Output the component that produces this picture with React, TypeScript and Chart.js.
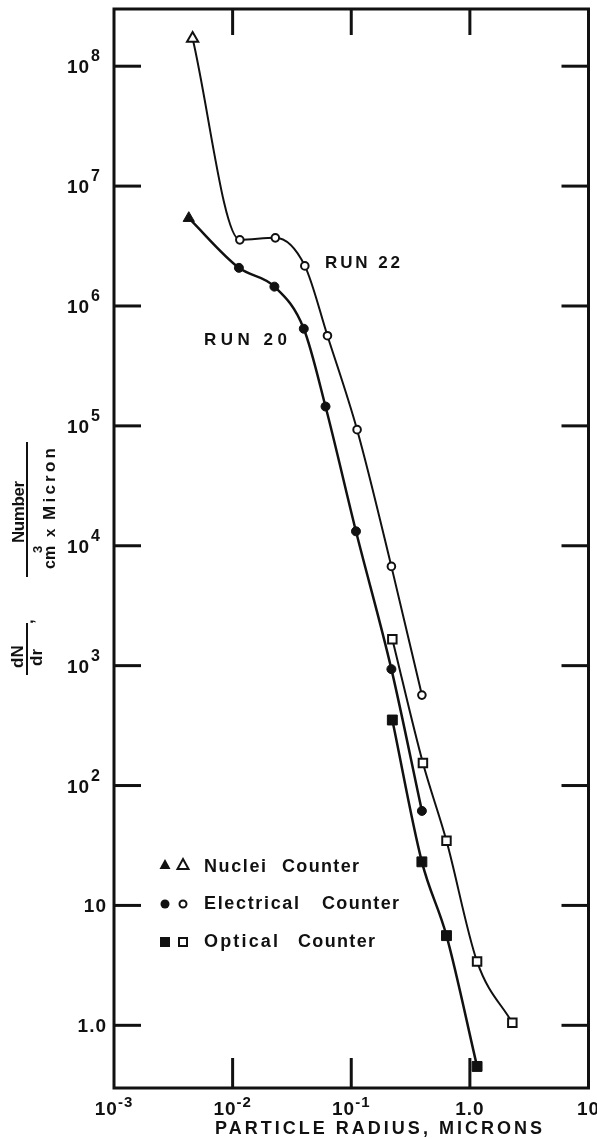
import React, { useEffect, useRef } from "react";
import { Chart, registerables } from "chart.js";

Chart.register(...registerables);

// ---- Data (particle radius in microns, dN/dr in number / cm^3 x micron) ----
const run22NucleiR = [0.0046];
const run22NucleiN = [1.7e8];
const run22ElecR = [0.0115, 0.0229, 0.0406, 0.063, 0.112, 0.218, 0.394];
const run22ElecN = [3.56e6, 3.7e6, 2.16e6, 5.65e5, 9.3e4, 6730, 568];
const run22OptR = [0.222, 0.402, 0.635, 1.15, 2.28];
const run22OptN = [1663, 154, 34.6, 3.4, 1.05];

const run20NucleiR = [0.00427];
const run20NucleiN = [5.4e6];
const run20ElecR = [0.0113, 0.0225, 0.0398, 0.0607, 0.1096, 0.218, 0.394];
const run20ElecN = [2.08e6, 1.45e6, 6.46e5, 1.45e5, 1.32e4, 935, 61.4];
const run20OptR = [0.222, 0.394, 0.635, 1.15];
const run20OptN = [352, 23.1, 5.6, 0.454];

// ---- Axes ----
const xMin = 1e-3;
const xMax = 10;
const yMin = 0.31;
const yMax = 3.0e8;
const xTickValues = [1e-3, 1e-2, 1e-1, 1, 10];
const xTickBase = ["10", "10", "10", "1.0", "10"];
const xTickExp = ["-3", "-2", "-1", "", ""];
const xInnerTicks = [1e-2, 1e-1, 1];
const yTickValues = [1, 10, 100, 1e3, 1e4, 1e5, 1e6, 1e7, 1e8];
const yTickBase = ["1.0", "10", "10", "10", "10", "10", "10", "10", "10"];
const yTickExp = ["", "", "2", "3", "4", "5", "6", "7", "8"];

const xTitle = "PARTICLE RADIUS, MICRONS";
const legendNames = ["Nuclei", "Electrical", "Optical"];
const legendWord = "Counter";
const run22Label = "RUN 22";
const run20Label = "RUN 20";

const INK = "#111";
const LBL = '"Liberation Sans", Arial, sans-serif';

function fitText(ctx: CanvasRenderingContext2D, text: string, x: number, y: number, width?: number) {
  (ctx as any).letterSpacing = "0px";
  ctx.textAlign = "left";
  if (width === undefined) {
    ctx.fillText(text, x, y);
    return;
  }
  const w0 = ctx.measureText(text).width;
  const n = text.length;
  const sp = n > 1 ? (width - w0) / (n - 1) : 0;
  (ctx as any).letterSpacing = sp + "px";
  ctx.fillText(text, x, y);
  (ctx as any).letterSpacing = "0px";
}

// rotated (bottom-to-top) text, baseline at screen x = baseX, starting at screen y = yBottom
function rotFit(ctx: CanvasRenderingContext2D, text: string, baseX: number, yBottom: number, font: string, length?: number) {
  ctx.save();
  ctx.font = font;
  ctx.translate(baseX, yBottom);
  ctx.rotate(-Math.PI / 2);
  ctx.textBaseline = "alphabetic";
  fitText(ctx, text, 0, 0, length);
  ctx.restore();
}

function line(ctx: CanvasRenderingContext2D, x1: number, y1: number, x2: number, y2: number) {
  ctx.beginPath();
  ctx.moveTo(x1, y1);
  ctx.lineTo(x2, y2);
  ctx.stroke();
}

function symbol(ctx: CanvasRenderingContext2D, kind: string, filled: boolean, cx: number, cy: number) {
  ctx.beginPath();
  if (kind === "triangle") {
    ctx.moveTo(cx, cy - 6);
    ctx.lineTo(cx + 5.5, cy + 4);
    ctx.lineTo(cx - 5.5, cy + 4);
    ctx.closePath();
  } else if (kind === "circle") {
    ctx.arc(cx, cy, filled ? 4.5 : 3.5, 0, Math.PI * 2);
  } else {
    if (filled) ctx.rect(cx - 5, cy - 5, 10, 10);
    else ctx.rect(cx - 4, cy - 4, 8, 8);
  }
  ctx.lineWidth = 2;
  if (filled) ctx.fill();
  else ctx.stroke();
}

const decor = {
  id: "decor",
  afterDatasetsDraw(chart: any) {
    const { ctx, chartArea: a, scales } = chart;
    const xs = scales.x;
    const ys = scales.y;
    ctx.save();
    ctx.strokeStyle = INK;
    ctx.fillStyle = INK;
    ctx.lineCap = "butt";

    // frame
    ctx.lineWidth = 3;
    ctx.strokeRect(a.left, a.top, a.right - a.left, a.bottom - a.top);

    // y ticks and labels
    yTickValues.forEach((v, i) => {
      const y = ys.getPixelForValue(v);
      ctx.lineWidth = 3;
      line(ctx, a.left, y, a.left + 27, y);
      line(ctx, a.right - 27, y, a.right, y);
      const right = 100;
      ctx.textBaseline = "alphabetic";
      ctx.textAlign = "right";
      let expW = 0;
      if (yTickExp[i]) {
        ctx.font = `bold 16px ${LBL}`;
        expW = ctx.measureText(yTickExp[i]).width;
        ctx.fillText(yTickExp[i], right, y - 5);
      }
      ctx.font = `bold 19px ${LBL}`;
      (ctx as any).letterSpacing = "1px";
      ctx.fillText(yTickBase[i], right - expW - (expW ? 1 : -7), y + 7);
      (ctx as any).letterSpacing = "0px";
    });

    // x ticks and labels
    ctx.lineWidth = 3;
    xInnerTicks.forEach((v) => {
      const x = xs.getPixelForValue(v);
      line(ctx, x, a.top, x, a.top + 26);
      line(ctx, x, a.bottom, x, a.bottom - 30);
    });
    xTickValues.forEach((v, i) => {
      const x = Math.min(xs.getPixelForValue(v), 589);
      (ctx as any).letterSpacing = "1px";
      ctx.font = `bold 19px ${LBL}`;
      const bw = ctx.measureText(xTickBase[i]).width;
      ctx.font = `bold 15px ${LBL}`;
      const ew = xTickExp[i] ? ctx.measureText(xTickExp[i]).width : 0;
      const start = x - (bw + ew) / 2;
      ctx.textAlign = "left";
      ctx.font = `bold 19px ${LBL}`;
      ctx.fillText(xTickBase[i], start, 1115);
      if (xTickExp[i]) {
        ctx.font = `bold 15px ${LBL}`;
        ctx.fillText(xTickExp[i], start + bw, 1107);
      }
      (ctx as any).letterSpacing = "0px";
    });

    // x title
    ctx.font = `bold 18px ${LBL}`;
    fitText(ctx, xTitle, 215, 1134, 327);

    // y title (rotated fractions)
    const tf = `bold 17px ${LBL}`;
    rotFit(ctx, "dN", 23, 668, tf);
    rotFit(ctx, "dr", 42, 666, tf);
    ctx.lineWidth = 2;
    line(ctx, 27, 623, 27, 675);
    rotFit(ctx, ",", 33, 624, tf);
    rotFit(ctx, "Number", 24, 543, tf, 62);
    line(ctx, 27, 442, 27, 577);
    rotFit(ctx, "cm", 55, 569, `bold 16px ${LBL}`);
    rotFit(ctx, "3", 42, 553, `bold 13px ${LBL}`);
    rotFit(ctx, "x", 55, 537, `bold 15px ${LBL}`);
    rotFit(ctx, "Micron", 55, 520, `bold 17px ${LBL}`, 72);

    // run labels
    ctx.font = `bold 17px ${LBL}`;
    fitText(ctx, run22Label, 325, 268, 75);
    fitText(ctx, run20Label, 204, 345, 83);

    // legend
    const kinds = ["triangle", "circle", "square"];
    const rows = [865, 904, 942];
    const baselines = [872, 909, 947];
    const nameW = [62, 95, 74];
    const wordX = [282, 322, 298];
    ctx.strokeStyle = INK;
    rows.forEach((cy, i) => {
      symbol(ctx, kinds[i], true, 165, cy);
      symbol(ctx, kinds[i], false, 183, cy);
      ctx.font = `bold 18px ${LBL}`;
      fitText(ctx, legendNames[i], 204, baselines[i], nameW[i]);
      fitText(ctx, legendWord, wordX[i], baselines[i], 77);
    });

    ctx.restore();
  },
};

function pts(rs: number[], ns: number[]) {
  return rs.map((r, i) => ({ x: r, y: ns[i] }));
}

export default function App() {
  const ref = useRef<HTMLCanvasElement>(null);
  useEffect(() => {
    const canvas = ref.current!;
    const chart = new Chart(canvas, {
      type: "line",
      data: {
        datasets: [
          {
            label: "Run 22 nuclei + electrical",
            data: [...pts(run22NucleiR, run22NucleiN), ...pts(run22ElecR, run22ElecN)],
            borderColor: INK,
            borderWidth: 2,
            pointStyle: [...run22NucleiR.map(() => "triangle"), ...run22ElecR.map(() => "circle")] as any,
            pointRadius: [...run22NucleiR.map(() => 6.5), ...run22ElecR.map(() => 3.8)],
            pointBackgroundColor: "#fff",
            pointBorderColor: INK,
            pointBorderWidth: 2,
            cubicInterpolationMode: "monotone",
            fill: false,
          },
          {
            label: "Run 20 nuclei + electrical",
            data: [...pts(run20NucleiR, run20NucleiN), ...pts(run20ElecR, run20ElecN)],
            borderColor: INK,
            borderWidth: 2.5,
            pointStyle: [...run20NucleiR.map(() => "triangle"), ...run20ElecR.map(() => "circle")] as any,
            pointRadius: [...run20NucleiR.map(() => 6.5), ...run20ElecR.map(() => 4.5)],
            pointBackgroundColor: INK,
            pointBorderColor: INK,
            pointBorderWidth: 1,
            cubicInterpolationMode: "monotone",
            fill: false,
          },
          {
            label: "Run 22 optical",
            data: pts(run22OptR, run22OptN),
            borderColor: INK,
            borderWidth: 2,
            pointStyle: "rect",
            pointRadius: 6,
            pointBackgroundColor: "#fff",
            pointBorderColor: INK,
            pointBorderWidth: 2,
            cubicInterpolationMode: "monotone",
            fill: false,
          },
          {
            label: "Run 20 optical",
            data: pts(run20OptR, run20OptN),
            borderColor: INK,
            borderWidth: 2.5,
            pointStyle: "rect",
            pointRadius: 7,
            pointBackgroundColor: INK,
            pointBorderColor: INK,
            pointBorderWidth: 1,
            cubicInterpolationMode: "monotone",
            fill: false,
          },
        ],
      },
      options: {
        responsive: false,
        animation: false,
        events: [],
        layout: { padding: { left: 114, right: 1, top: 9, bottom: 51 } },
        scales: {
          x: { type: "logarithmic", min: xMin, max: xMax, display: false },
          y: { type: "logarithmic", min: yMin, max: yMax, display: false },
        },
        plugins: { legend: { display: false }, tooltip: { enabled: false } },
      },
      plugins: [decor],
    } as any);
    return () => chart.destroy();
  }, []);
  return (
    <div style={{ position: "absolute", left: 0, top: 0, width: 597, height: 1139, background: "#fff" }}>
      <canvas ref={ref} width={597} height={1139} style={{ display: "block" }} />
    </div>
  );
}
